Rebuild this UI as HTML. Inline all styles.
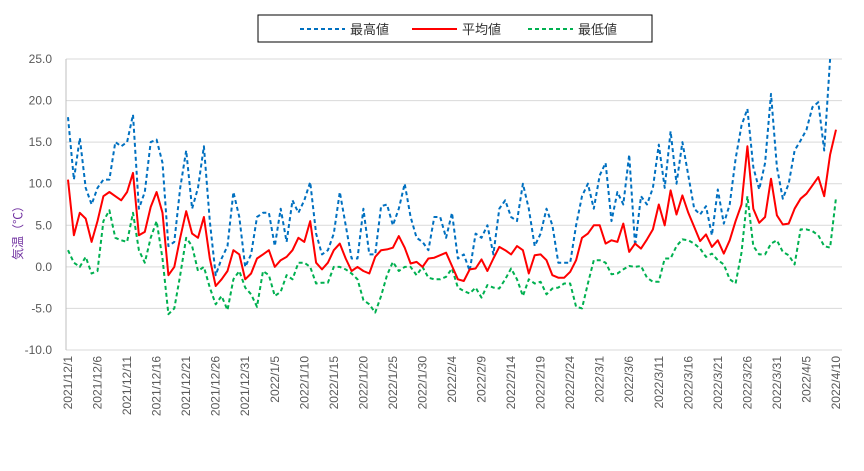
<!DOCTYPE html>
<html><head><meta charset="utf-8"><style>
body{margin:0;background:#fff;}
svg{font-family:"Liberation Sans","Noto Sans CJK JP",sans-serif;}
</style></head><body>
<svg id="chart" width="864" height="466" viewBox="0 0 864 466">
<defs><clipPath id="plotclip"><rect x="60" y="59" width="790" height="292"/></clipPath></defs>
<g id="grid"></g>
<g id="yaxis"></g>
<g id="xaxis"></g>
<g id="series" clip-path="url(#plotclip)"></g>
<text transform="translate(22,230) rotate(-90)" text-anchor="middle" font-size="12" fill="#7030A0">気温（℃）</text>
<g>
<rect x="258" y="15" width="394" height="27" fill="#fff" stroke="#000" stroke-width="1"/>
<g><line x1="300" y1="29" x2="345" y2="29" stroke="#0070C0" stroke-width="2" stroke-dasharray="4,3"/><text x="350" y="34" font-size="13" fill="#333">最高値</text></g>
<g><line x1="412" y1="29" x2="457" y2="29" stroke="#FF0000" stroke-width="2"/><text x="462" y="34" font-size="13" fill="#333">平均値</text></g>
<g><line x1="528" y1="29" x2="573" y2="29" stroke="#00B050" stroke-width="2" stroke-dasharray="4,3"/><text x="578" y="34" font-size="13" fill="#333">最低値</text></g>
</g>
</svg>
<script>
const yTicks=[-10,-5,0,5,10,15,20,25];
const startDate=[2021,12,1];
const maxVals=[18,10.5,15.5,9.5,7.5,9.5,10.5,10.5,15,14.5,15,18.3,7,9,15,15.3,12.5,2.5,3,9.5,14,7,9.5,14.5,5.5,-1,1,2.5,9,6,0,1.5,6,6.5,6.5,2.5,7,3,8,6.5,8,10.2,4,1.5,2,4,9,5,1,1,7,1.5,1.5,7.3,7.5,5,7,10,6,3.5,3,2,6,6,3.5,6.5,1,1.5,-0.5,4,3.5,5,1.5,7,8,6,5.5,10,7,2.5,4,7,5,0.5,0.5,0.5,5,8.5,10,7,11,12.5,5.5,9,7.5,13.5,2.5,8.5,7.5,9.5,14.7,9.5,16.3,10,15,11,7,6.3,7.3,3.8,9.3,5.2,7.5,13,17,19,12,9.3,12.5,20.8,12,8.2,10,14,15.2,16.5,19.2,19.8,14,25,27];
const meanVals=[10.5,3.8,6.5,5.8,3,5.5,8.5,9,8.5,8,9,11.3,3.8,4.2,7.2,9,6.5,-1,0,3.5,6.7,4,3.5,6,1,-2.3,-1.5,-0.5,2,1.5,-1.5,-0.8,1,1.5,2,0,0.8,1.2,2,3.5,3,5.5,0.5,-0.3,0.5,2,2.8,1,-0.5,0,-0.5,-0.8,1.2,2,2.1,2.3,3.7,2.3,0.4,0.6,0,1,1.1,1.4,1.7,0.1,-1.5,-1.7,-0.3,-0.2,0.9,-0.5,1,2.4,2,1.5,2.5,2,-0.8,1.4,1.5,0.8,-1,-1.3,-1.3,-0.6,0.8,3.5,4,5,5,2.8,3.2,3,5.2,1.8,2.8,2.2,3.3,4.5,7.5,5,9.2,6.3,8.6,6.5,4.8,3.1,3.9,2.4,3.2,1.6,3.2,5.5,7.5,14.5,7,5.3,6,10.6,6.2,5.1,5.2,7,8.2,8.8,9.8,10.8,8.5,13.5,16.5];
const minVals=[2,0.5,0,1.2,-0.8,-0.5,5.5,6.8,3.5,3.2,3,6.5,2,0.5,3.5,5.5,1,-5.7,-5,-1,3.5,2.5,-0.5,0,-2.5,-4.5,-3.5,-5.2,-1.5,-0.5,-2.5,-3.3,-4.8,-0.5,-1,-3.5,-3,-1,-1.5,0.5,0.5,0,-2,-1.9,-1.9,0,0,-0.3,-0.8,-1.5,-4,-4.5,-5.5,-3.5,-1,0.6,-0.5,0,0,-1,0,-1.3,-1.5,-1.5,-1.2,-0.2,-2.5,-2.9,-3.2,-2.5,-3.7,-2.2,-2.5,-2.6,-1.5,-0.2,-1.5,-3.5,-1.5,-2,-1.8,-3.3,-2.6,-2.5,-2,-2,-4.8,-5,-2,0.8,0.8,0.5,-0.9,-0.8,-0.3,0.1,0,0.1,-1.3,-1.8,-1.8,1,1,2.5,3.3,3.2,2.8,2.2,1.2,1.6,0.8,0.3,-1.5,-2,1.7,8.5,2.5,1.5,1.5,2.8,3.2,1.8,1.4,0.3,4.5,4.5,4.3,3.8,2.5,2.3,8.3];

const NS='http://www.w3.org/2000/svg';
const X0=68,X1=836,YTOP=59,YBOT=350,YMIN=-10,YMAX=25;
const n=maxVals.length;
function xs(i){return X0+(X1-X0)*i/(n-1);}
function ys(v){return YBOT-(v-YMIN)/(YMAX-YMIN)*(YBOT-YTOP);}
function mk(tag,attrs){const e=document.createElementNS(NS,tag);for(const k in attrs)e.setAttribute(k,attrs[k]);return e;}
const grid=document.getElementById('grid'),yaxis=document.getElementById('yaxis'),xaxis=document.getElementById('xaxis'),series=document.getElementById('series');
yTicks.forEach(t=>{
  const l=mk('line',{x1:66,x2:842,y1:ys(t),y2:ys(t),stroke:'#d9d9d9','stroke-width':1});
  
  
  grid.appendChild(l);
  const tx=mk('text',{x:52,y:ys(t)+4,'text-anchor':'end','font-size':12,fill:'#595959'});
  
  
  tx.textContent=t.toFixed(1);
  yaxis.appendChild(tx);
});
const ax=mk('line',{x1:66,x2:66,y1:YTOP,y2:YBOT,stroke:'#bfbfbf','stroke-width':1});


yaxis.appendChild(ax);
const d0=new Date(startDate[0],startDate[1]-1,startDate[2]);
for(let i=0;i<n;i+=5){
  const d=new Date(d0.getTime());d.setDate(d.getDate()+i);
  const lbl=d.getFullYear()+'/'+(d.getMonth()+1)+'/'+d.getDate();
  const tx=mk('text',{transform:`translate(${xs(i)+4},356) rotate(-90)`,'text-anchor':'end','font-size':12,fill:'#595959'});
  
  
  tx.textContent=lbl;
  xaxis.appendChild(tx);
}
function line(vals,color,dash,name){
  const pts=vals.map((v,i)=>xs(i).toFixed(1)+','+ys(v).toFixed(1)).join(' ');
  const p=mk('polyline',{points:pts,fill:'none',stroke:color,'stroke-width':2,'stroke-linejoin':'round'});
  if(dash)p.setAttribute('stroke-dasharray',dash);
  
  
  series.appendChild(p);
}
line(maxVals,'#0070C0','4,3','series-max');
line(minVals,'#00B050','4,3','series-min');
line(meanVals,'#FF0000',null,'series-mean');
</script>
</body></html>
